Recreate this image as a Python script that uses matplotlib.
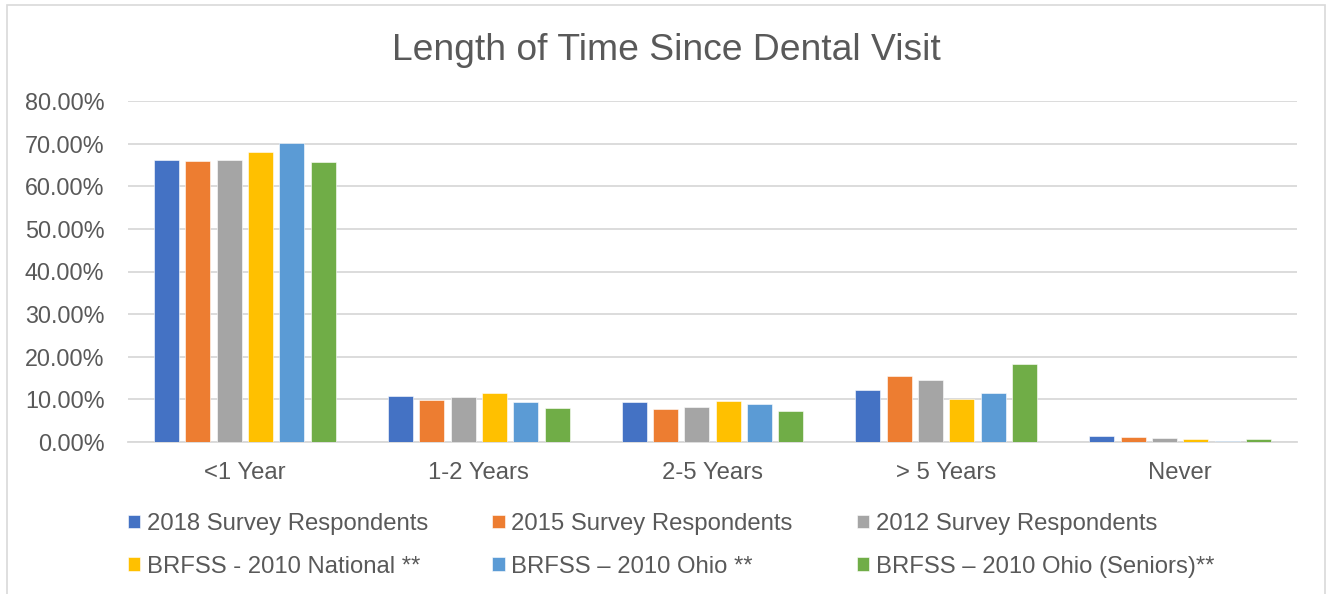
import matplotlib.pyplot as plt
from matplotlib.patches import Rectangle
import numpy as np

plt.rcParams['font.family'] = ['Liberation Sans', 'DejaVu Sans']

categories = ["<1 Year", "1-2 Years", "2-5 Years", "> 5 Years", "Never"]

series = ["2018 Survey Respondents",
          "2015 Survey Respondents",
          "2012 Survey Respondents",
          "BRFSS - 2010 National **",
          "BRFSS \u2013 2010 Ohio **",
          "BRFSS \u2013 2010 Ohio (Seniors)**"]

# percent values per series, in category order
s2018 = [66.1, 10.9, 9.4, 12.3, 1.3]
s2015 = [65.9, 9.8, 7.7, 15.6, 1.1]
s2012 = [66.2, 10.5, 8.1, 14.6, 0.9]
national = [68.0, 11.4, 9.7, 10.0, 0.8]
ohio = [70.1, 9.4, 8.9, 11.4, 0.35]
seniors = [65.6, 7.9, 7.3, 18.2, 0.8]

values = [s2018, s2015, s2012, national, ohio, seniors]
colors = ["#4472C4", "#ED7D31", "#A5A5A5", "#FFC000", "#5B9BD5", "#70AD47"]

text_col = "#595959"
grid_col = "#D9D9D9"

fig = plt.figure(figsize=(13.31, 5.94), dpi=100)
ax = fig.add_axes([128/1331, 1 - 442/594, (1297-128)/1331, (442-101)/594])

x = np.arange(len(categories))
step = 0.134
width = 0.107
bars = []
for i, (vals, c) in enumerate(zip(values, colors)):
    b = ax.bar(x + (i - 2.5) * step, vals, width, color=c, label=series[i],
               edgecolor="white", linewidth=0.4, zorder=3)
    bars.append(b)

ax.set_xlim(-0.5, len(categories) - 0.5)
ax.set_ylim(0, 80)
ax.set_yticks(np.arange(0, 81, 10))
ax.set_yticklabels(["{:.2f}%".format(v) for v in np.arange(0, 81, 10)])
ax.set_xticks(x)
ax.set_xticklabels(categories)
ax.tick_params(axis='both', length=0, labelcolor=text_col)
ax.tick_params(axis='y', pad=17, labelsize=16.8)
ax.tick_params(axis='x', pad=14.5, labelsize=17.2)

ax.grid(axis='y', color=grid_col, linewidth=1.3, zorder=0)
for s in ["top", "right", "left"]:
    ax.spines[s].set_visible(False)
ax.spines["bottom"].set_color(grid_col)
ax.spines["bottom"].set_linewidth(1.3)

fig.text(0.501, 1 - 60/594, "Length of Time Since Dental Visit", ha='center',
         va='baseline', fontsize=26.8, color=text_col)

order = [0, 3, 1, 4, 2, 5]
leg = fig.legend([bars[k] for k in order], [series[k] for k in order],
                 loc='upper left', bbox_to_anchor=(128/1331, 1 - 513/594),
                 ncol=3, frameon=False, fontsize=17.2, borderpad=0,
                 borderaxespad=0, handlelength=0.52, handleheight=0.52,
                 handletextpad=0.26, columnspacing=2.7, labelspacing=0.86)
for t in leg.get_texts():
    t.set_color(text_col)

fig.patches.append(Rectangle((7/1331, -0.01), (1325-7)/1331, 1.01 - 5/594,
                             transform=fig.transFigure, fill=False,
                             edgecolor=grid_col, linewidth=1.2))

fig.savefig("out.png", dpi=100)
